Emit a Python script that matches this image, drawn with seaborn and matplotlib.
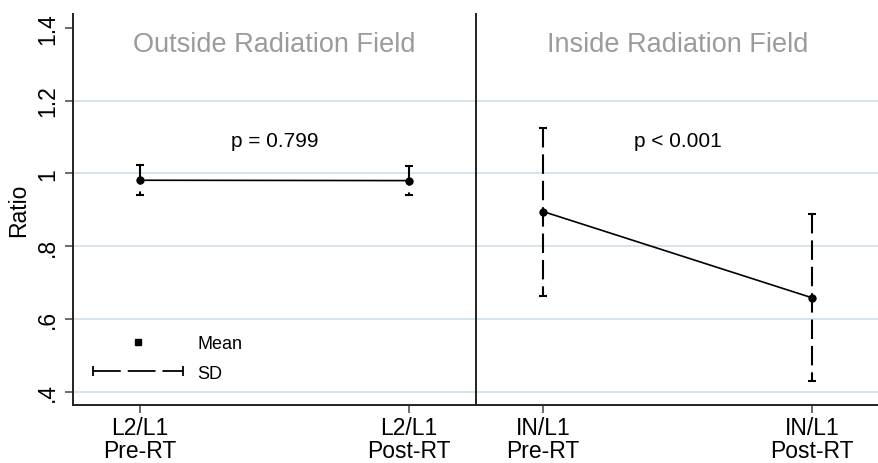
import numpy as np
import pandas as pd
import matplotlib
matplotlib.use("Agg")
import matplotlib.pyplot as plt
import seaborn as sns
from matplotlib.lines import Line2D
from matplotlib.legend_handler import HandlerLine2D

# ------------------------------------------------------------
# data
# ------------------------------------------------------------
panel_titles = ["Outside Radiation Field", "Inside Radiation Field"]
outside_labels = ["L2/L1\nPre-RT", "L2/L1\nPost-RT"]
inside_labels = ["IN/L1\nPre-RT", "IN/L1\nPost-RT"]
outside_mean = [0.981, 0.980]
outside_sd = [0.041, 0.040]
inside_mean = [0.895, 0.658]
inside_sd = [0.231, 0.229]
p_texts = ["p = 0.799", "p < 0.001"]
y_ticks = [0.4, 0.6, 0.8, 1.0, 1.2, 1.4]
y_tick_labels = [".4", ".6", ".8", "1", "1.2", "1.4"]

sns.set_theme(style="white")
plt.rcParams["font.family"] = ["Liberation Sans", "DejaVu Sans"]
plt.rcParams["lines.scale_dashes"] = False
plt.rcParams["text.color"] = "black"
plt.rcParams["xtick.labelcolor"] = "black"
plt.rcParams["ytick.labelcolor"] = "black"
plt.rcParams["axes.labelcolor"] = "black"

grid_col = "#d3e2ea"
title_col = "#9b9b9b"
dash = (0, (14, 5))

fig, axes = plt.subplots(1, 2, figsize=(8.79, 4.64), dpi=100, sharey=True)
fig.subplots_adjust(left=0.0827, right=1.0, bottom=0.125, top=0.968, wspace=0)

panels = [
    (outside_labels, outside_mean, outside_sd),
    (inside_labels, inside_mean, inside_sd),
]

for i, (ax, (labels, mean, sd)) in enumerate(zip(axes, panels)):
    df = pd.DataFrame({"pos": [0.25, 1.25], "mean": mean, "sd": sd})

    # mean line
    sns.lineplot(data=df, x="pos", y="mean", ax=ax, color="black", lw=1.2,
                 marker="o", markersize=6, markeredgewidth=0, zorder=4)

    # SD bars, dashed, dash pattern starting from the top cap
    eb = ax.errorbar(df["pos"], df["mean"], yerr=df["sd"], fmt="none",
                     ecolor="black", elinewidth=1.5, capsize=3, capthick=1.5,
                     zorder=3)
    for lc in eb.lines[2]:
        lc.set_segments([s[::-1] for s in lc.get_segments()])
        lc.set_linestyle(dash)

    ax.set_xlim(0, 1.5)
    ax.set_xticks(df["pos"])
    ax.set_xticklabels(labels, fontsize=16.5, linespacing=1.0)
    ax.set_xlabel("")
    ax.set_ylabel("")

    ax.text(0.5, 0.923, panel_titles[i], transform=ax.transAxes,
            ha="center", va="center", fontsize=19.5, color=title_col)
    ax.text(0.5, 0.675, p_texts[i], transform=ax.transAxes,
            ha="center", va="center", fontsize=15, color="black")

    ax.set_yticks(y_ticks)
    ax.grid(axis="y", color=grid_col, lw=1.3)
    ax.grid(axis="x", visible=False)
    ax.get_ygridlines()[-1].set_visible(False)
    ax.set_axisbelow(True)

    for side in ["top", "right"]:
        ax.spines[side].set_visible(False)
    for side in ["left", "bottom"]:
        ax.spines[side].set_color("#222222")
        ax.spines[side].set_linewidth(1.4)

    ax.tick_params(axis="x", direction="out", length=6, width=1.1,
                   color="#444444", pad=2, bottom=True)

axes[0].set_ylim(0.363, 1.4385)
axes[0].set_yticklabels(y_tick_labels, fontsize=16.5, rotation=90, va="center")
axes[0].tick_params(axis="y", direction="out", length=6, width=1.1,
                    color="#444444", pad=4, left=True)
axes[0].set_ylabel("Ratio", fontsize=16.5, labelpad=4)
axes[1].tick_params(axis="y", left=False, labelleft=False)

# legend (Mean marker, SD bar)
mean_handle = Line2D([], [], ls="none", marker="s", ms=4.5, color="black")
sd_handle = Line2D([], [], color="black", lw=1.3, ls=(0, (20, 5)),
                   marker="|", ms=7, mew=1.3)
axes[0].legend([mean_handle, sd_handle], ["Mean", "SD"],
               handler_map={mean_handle: HandlerLine2D(numpoints=1),
                            sd_handle: HandlerLine2D(numpoints=2, marker_pad=0)},
               loc="lower left", bbox_to_anchor=(0.05, 0.06), frameon=False,
               fontsize=13, handlelength=5, handletextpad=0.8,
               labelspacing=0.7, borderpad=0, borderaxespad=0)

fig.savefig("out.png", dpi=100)
